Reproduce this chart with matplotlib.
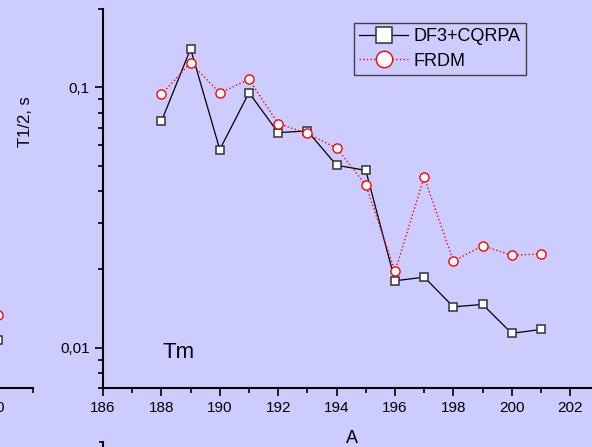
import matplotlib
matplotlib.use("Agg")
import matplotlib.pyplot as plt
from matplotlib.ticker import FixedLocator, FuncFormatter, LogLocator, NullFormatter

# mass number A and half-lives (s) for Tm isotopes
mass = [188, 189, 190, 191, 192, 193, 194, 195, 196, 197, 198, 199, 200, 201]
t_df3 = [0.0740, 0.1406, 0.0577, 0.0954, 0.0670, 0.0680, 0.0502, 0.0480,
         0.01807, 0.01866, 0.01435, 0.01466, 0.01135, 0.01175]
t_frdm = [0.0940, 0.1244, 0.0951, 0.1073, 0.0726, 0.0665, 0.0584, 0.0422,
          0.01962, 0.0452, 0.02148, 0.02464, 0.02265, 0.02291]

# last points of the neighbouring panel, cut off at the left edge
mass_left = [200.15]
t_df3_left = [0.01074]
t_frdm_left = [0.01338]

x_ticks = [186, 188, 190, 192, 194, 196, 198, 200, 202]
y_ticks = [0.01, 0.1]
y_tick_labels = ["0,01", "0,1"]

bg = "#CCCCFF"
plt.rcParams["font.family"] = ["Liberation Sans", "DejaVu Sans"]

W, H = 592, 447
fig = plt.figure(figsize=(W / 100, H / 100), dpi=100, facecolor=bg)


def style_axis(ax):
    ax.set_facecolor(bg)
    ax.patch.set_alpha(0)
    for s in ["top", "right"]:
        ax.spines[s].set_visible(False)
    for s in ["left", "bottom"]:
        ax.spines[s].set_linewidth(1.5)
    ax.tick_params(which="major", direction="out", length=6, width=1.2,
                   labelsize=11, pad=3.5)
    ax.tick_params(which="minor", direction="out", length=3.5, width=1.2)


def style_yaxis(ax):
    ax.set_yscale("log")
    ax.set_ylim(0.007, 0.2)
    ax.yaxis.set_major_locator(FixedLocator(y_ticks))
    ax.yaxis.set_major_formatter(FuncFormatter(
        lambda v, p: dict(zip(y_ticks, y_tick_labels)).get(v, "")))
    ax.yaxis.set_minor_locator(LogLocator(base=10, subs=range(2, 10)))
    ax.yaxis.set_minor_formatter(NullFormatter())


def draw_series(ax, x, y1, y2, label=True):
    ax.plot(x, y1, color="black", lw=0.9, marker="s", ms=6.2,
            mfc="white", mec="#333333", mew=1.1, clip_on=False,
            label="DF3+CQRPA" if label else None)
    ax.plot(x, y2, color="red", lw=1.0, ls=":", marker="o", ms=6.6,
            mfc="white", mec="red", mew=1.0, clip_on=False,
            label="FRDM" if label else None)


# main panel
ax = fig.add_axes([103 / W, 59 / H, (W - 103) / W, (388 - 9) / H])
style_axis(ax)
style_yaxis(ax)
ax.set_xlim(186, 186 + (W - 103) / 29.2)
ax.xaxis.set_major_locator(FixedLocator(x_ticks))
ax.xaxis.set_minor_locator(FixedLocator(range(187, 203, 2)))
draw_series(ax, mass, t_df3, t_frdm)

ax.set_xlabel("A", fontsize=13)
ax.xaxis.set_label_coords((352 - 103) / (W - 103), -0.112)
ax.text(0.155, 0.08, "Tm", transform=ax.transAxes, fontsize=16,
        ha="center", va="baseline")

leg = ax.legend(loc="upper left", bbox_to_anchor=((354 - 103) / (W - 103), 1 - 14 / 379),
                fontsize=13, frameon=True, fancybox=False, facecolor=bg,
                edgecolor="#404040", framealpha=1, markerscale=1.8,
                handlelength=2.7, handletextpad=0.3, borderpad=0.3,
                labelspacing=0.4, borderaxespad=0)
leg.get_frame().set_linewidth(1.0)

fig.text(25 / W, 1 - 122 / H, "T1/2, s", rotation=90, fontsize=12,
         ha="center", va="center")

# neighbouring panel on the left (only its right end is visible)
axl = fig.add_axes([-400 / W, 59 / H, 432.7 / W, (388 - 9) / H])
style_axis(axl)
style_yaxis(axl)
axl.set_yticklabels([])
axl.set_xlim(200 - 392 / 40.7, 201)
axl.xaxis.set_major_locator(FixedLocator([200]))
axl.xaxis.set_minor_locator(FixedLocator([201]))
axl.xaxis.set_major_formatter(FuncFormatter(lambda v, p: "%d" % v))
draw_series(axl, mass_left, t_df3_left, t_frdm_left, label=False)

# panel below (only the top of its left axis is visible)
axb = fig.add_axes([103 / W, -1.0, 0.5, 1.0 + 5 / H])
axb.patch.set_alpha(0)
for s in ["top", "right", "bottom"]:
    axb.spines[s].set_visible(False)
axb.spines["left"].set_linewidth(1.5)
axb.set_ylim(0, 1)
axb.set_xticks([])
axb.set_yticks([1])
axb.set_yticklabels([])
axb.tick_params(axis="y", direction="out", length=3, width=1.2)

fig.savefig("out.png", dpi=100, facecolor=bg)
